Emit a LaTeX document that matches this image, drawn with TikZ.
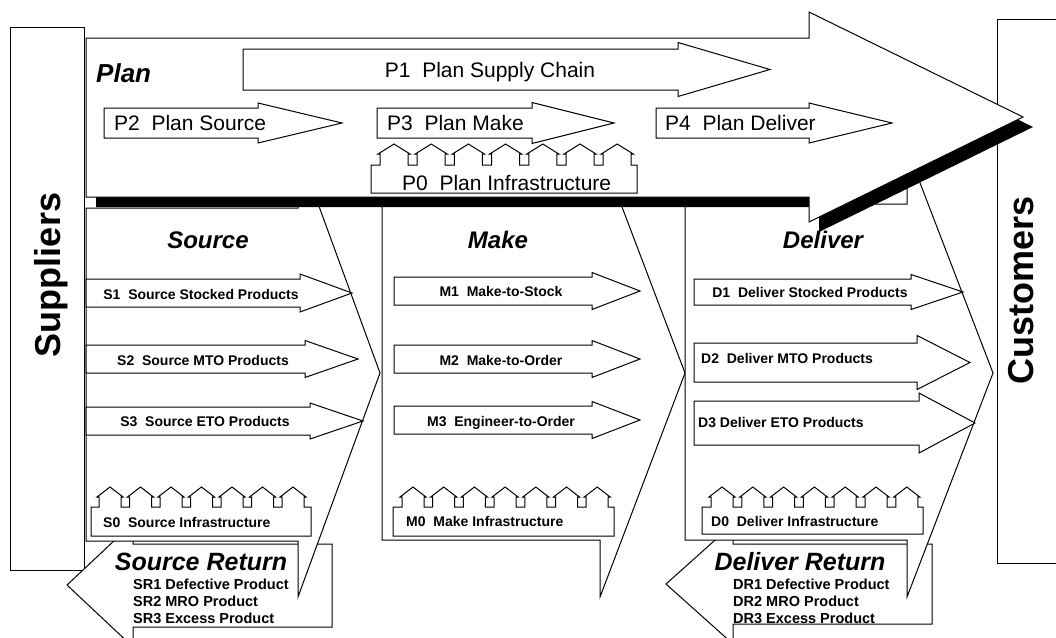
\documentclass[tikz,border=0pt]{standalone}
\usepackage{fontspec}
\setmainfont{Liberation Sans}

% right-pointing process arrow: x start, x of head base, y middle,
% half height of shaft, half height of head, x of tip
\newcommand\procarrow[6]{%
  \draw[outline] (#1,{#3-#4}) -- (#2,{#3-#4}) -- (#2,{#3-#5}) -- (#6,#3)
    -- (#2,{#3+#5}) -- (#2,{#3+#4}) -- (#1,{#3+#4}) -- cycle;}

% row of seven houses standing on a base block:
% x left, x right, y top of block, y bottom of block,
% x of first wall, house width, pitch, y of eaves, y of roof peak
\newcommand\housestrip[9]{%
  \draw[outline] (#1,#4) -- (#1,#3)
    foreach \k in {0,...,6}{
      -- ({#5+\k*#7},#3) -- ({#5+\k*#7},#8) -- ({#5+\k*#7-2},#8)
      -- ({#5+\k*#7+#6/2},#9) -- ({#5+\k*#7+#6+2},#8)
      -- ({#5+\k*#7+#6},#8) -- ({#5+\k*#7+#6},#3)}
    -- (#2,#3) -- (#2,#4) -- cycle;}

\begin{document}
\begin{tikzpicture}[x=1pt,y=-1pt,
  outline/.style={draw=black,line width=1pt,fill=white,line join=miter},
  shadow/.style={fill=black,draw=none},
  sidetext/.style={font=\bfseries\fontsize{36}{40}\selectfont,inner sep=0pt,
    text height=26pt,text depth=0pt,rotate=90},
  plantitle/.style={font=\bfseries\itshape\fontsize{26}{30}\selectfont,
    inner sep=0pt,text height=19pt,text depth=0pt},
  headtext/.style={font=\bfseries\itshape\fontsize{24}{28}\selectfont,
    inner sep=0pt,text height=17pt,text depth=0pt},
  rethead/.style={font=\bfseries\itshape\fontsize{25}{29}\selectfont,
    inner sep=0pt,text height=18pt,text depth=0pt},
  plantext/.style={font=\fontsize{21}{25}\selectfont,inner sep=0pt,
    text height=15pt,text depth=0pt},
  proctext/.style={font=\bfseries\fontsize{14}{17}\selectfont,inner sep=0pt,
    text height=10pt,text depth=0pt},
  rettext/.style={font=\bfseries\fontsize{14.5}{17}\selectfont,inner sep=0pt,
    text height=10.5pt,text depth=0pt,anchor=west}]

\path[use as bounding box] (0,0) rectangle (1056,637);
\clip (0,0) rectangle (1056,637);
\fill[white] (0,0) rectangle (1056,637);

% trading partners at both ends
\draw[outline] (10,27) rectangle (84,570);
\node[sidetext] (suppliers) at (47,275) {Suppliers};
\draw[outline] (997,19) rectangle (1071,563);
\node[sidetext] (customers) at (1020,290) {Customers};

% return flows pointing back upstream
\draw[outline] (67,585) -- (133,523) -- (133,544) -- (332,544) -- (332,627)
  -- (133,627) -- (133,647) -- cycle;
\draw[outline] (666,584) -- (733,524) -- (733,544) -- (932,544) -- (932,624)
  -- (733,624) -- (733,644) -- cycle;

% Source, Make and Deliver process blocks
\draw[outline] (86,208) -- (298,208) -- (298,149) -- (380,373) -- (298,597)
  -- (298,541) -- (86,541) -- cycle;
\draw[outline] (382,205) -- (600,205) -- (600,149) -- (685,373) -- (600,597)
  -- (600,540) -- (382,540) -- cycle;
\draw[outline] (685,204) -- (907,204) -- (907,149) -- (993,373) -- (907,597)
  -- (907,540) -- (685,540) -- cycle;

% Plan arrow with its drop shadow
\fill[shadow] (96,48) -- (819,48) -- (819,22) -- (1033,127) -- (819,232)
  -- (819,207) -- (96,207) -- cycle;
\draw[outline] (86,38) -- (809,38) -- (809,12) -- (1023,117) -- (809,222)
  -- (809,197) -- (86,197) -- cycle;

% planning processes
\node[plantitle,anchor=west] (plan) at (96,73) {Plan};
\procarrow{243}{678}{69.5}{20.5}{27}{770}
\node[plantext] (p1) at (490,70) {P1~~Plan Supply Chain};
\procarrow{104}{258}{123}{15}{20}{342}
\node[plantext,anchor=west] (p2) at (114,123) {P2~~Plan Source};
\procarrow{377}{532}{123}{15}{20.5}{614}
\node[plantext,anchor=west] (p3) at (387,123) {P3~~Plan Make};
\procarrow{656}{809}{123}{15}{20}{892}
\node[plantext,anchor=west] (p4) at (665,123) {P4~~Plan Deliver};
\housestrip{371}{637}{165}{193}{380}{28}{37.2}{154}{144}
\node[plantext,anchor=west] (p0) at (402,183) {P0~~Plan Infrastructure};

% Source
\node[headtext] (source) at (208,240) {Source};
\procarrow{86}{300}{293}{14}{19}{352}
\node[proctext] (s1) at (201,294) {S1~~Source Stocked Products};
\procarrow{86}{305}{359}{14}{18.5}{358}
\node[proctext] (s2) at (203,360) {S2~~Source MTO Products};
\procarrow{86}{310}{421}{14}{18}{363}
\node[proctext] (s3) at (205,421) {S3~~Source ETO Products};
\housestrip{91}{311}{507}{536}{99}{22}{30.5}{497}{487}
\node[proctext,anchor=west] (s0) at (103,522) {S0~~Source Infrastructure};

% Make
\node[headtext] (make) at (498,240) {Make};
\procarrow{394}{592}{291}{14}{18.5}{640}
\node[proctext] (m1) at (501,291) {M1~~Make-to-Stock};
\procarrow{394}{592}{359}{14}{18.5}{640}
\node[proctext] (m2) at (501,360) {M2~~Make-to-Order};
\procarrow{394}{592}{420}{14}{18.5}{640}
\node[proctext] (m3) at (501,421) {M3~~Engineer-to-Order};
\housestrip{393}{614}{507}{536}{402}{22}{30.7}{497}{487}
\node[proctext,anchor=west] (m0) at (406,521) {M0~~Make Infrastructure};

% Deliver
\node[headtext] (deliver) at (823,240) {Deliver};
\procarrow{694}{911}{292}{13}{17.5}{963}
\node[proctext] (d1) at (810,292) {D1~~Deliver Stocked Products};
\procarrow{694}{917}{362.5}{19.5}{27}{970}
\node[proctext,anchor=west] (d2) at (701,358) {D2~~Deliver MTO Products};
\procarrow{694}{919}{423}{22}{30}{975}
\node[proctext,anchor=west] (d3) at (698,422) {D3 Deliver ETO Products};
\housestrip{702}{923}{507}{534}{711}{22}{30.8}{497}{487}
\node[proctext,anchor=west] (d0) at (711,521) {D0~~Deliver Infrastructure};

% return labels
\node[rethead] (sret) at (201,561) {Source Return};
\node[rettext] (sr1) at (133,584) {SR1 Defective Product};
\node[rettext] (sr2) at (133,601) {SR2 MRO Product};
\node[rettext] (sr3) at (133,618) {SR3 Excess Product};
\node[rethead] (dret) at (800,561) {Deliver Return};
\node[rettext] (dr1) at (733,584) {DR1 Defective Product};
\node[rettext] (dr2) at (733,601) {DR2 MRO Product};
\node[rettext] (dr3) at (733,618) {DR3 Excess Product};
\end{tikzpicture}
\end{document}
